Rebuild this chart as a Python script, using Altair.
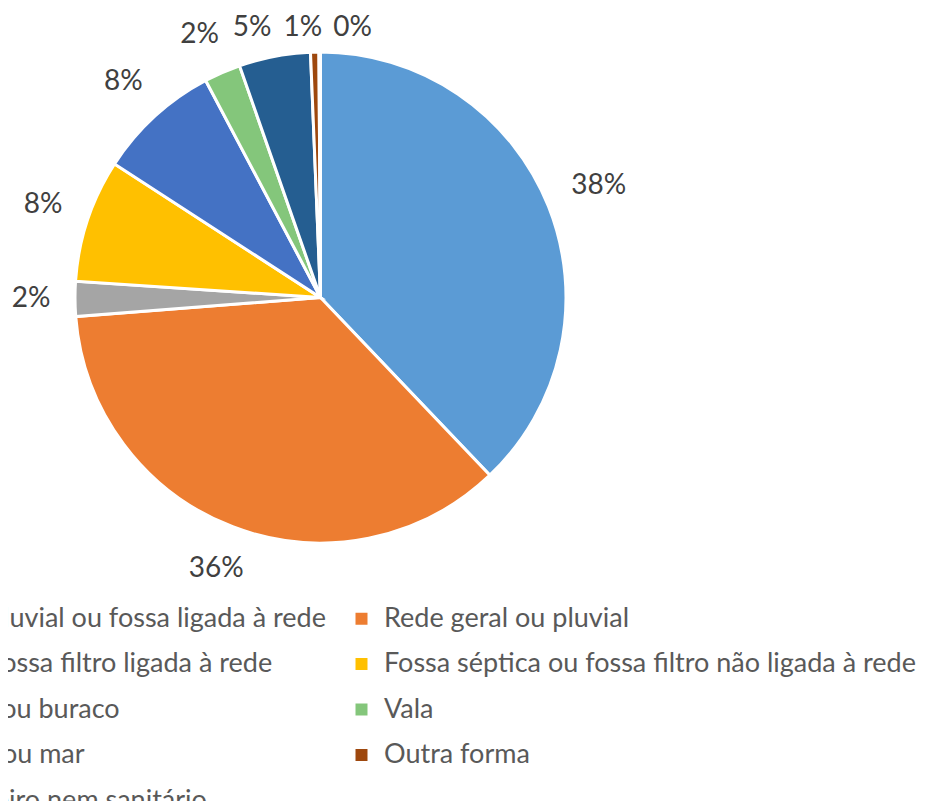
import math
import altair as alt
import pandas as pd

categories = [
    "Rede geral, rede pluvial ou fossa ligada à rede",
    "Rede geral ou pluvial",
    "Fossa séptica ou fossa filtro ligada à rede",
    "Fossa séptica ou fossa filtro não ligada à rede",
    "Fossa rudimentar ou buraco",
    "Vala",
    "Rio, lago, córrego ou mar",
    "Outra forma",
    "Não tinham banheiro nem sanitário",
]
values = [37.9, 35.9, 2.3, 8.1, 8.1, 2.4, 4.7, 0.55, 0.1]
colors = ["#5B9BD5", "#ED7D31", "#A5A5A5", "#FFC000", "#4472C4",
          "#84C67B", "#255E91", "#9E480E", "#636363"]

# layout constants
R = 245.5
FS_LAB = 28
GAP = 25
HALF_H = 12
TOP_LIMIT = R + 24
SEP = 10.5

labels = [f"{v:.0f}%" for v in values]
total = sum(values)
mids = []
acc = 0.0
for v in values:
    mids.append((acc + v / 2) / total * 360.0)
    acc += v
pos = list(mids)
for _ in range(500):
    moved = False
    for i in range(len(pos) - 1):
        d = pos[i + 1] - pos[i]
        if d < SEP - 1e-9:
            s = (SEP - d) / 2
            pos[i] -= s
            pos[i + 1] += s
            moved = True
    if not moved:
        break

lab_theta, lab_r = [], []
for s, a in zip(labels, pos):
    t = math.radians(a)
    hw = 0.5 * FS_LAB * (0.55 * (len(s) - 1) + 0.8)
    r = R + GAP + hw * abs(math.sin(t)) + HALF_H * abs(math.cos(t))
    if math.cos(t) > 0 and r * math.cos(t) > TOP_LIMIT:
        r = TOP_LIMIT / math.cos(t)
    lab_theta.append(t)
    lab_r.append(r)

df = pd.DataFrame({
    "category": categories,
    "value": values,
    "order": list(range(len(values))),
    "label": labels,
    "lab_theta": lab_theta,
    "lab_r": lab_r,
})

pie = alt.Chart(df).mark_arc(outerRadius=R, stroke="white", strokeWidth=3).encode(
    theta=alt.Theta("value:Q", stack=True),
    color=alt.Color(
        "category:N",
        scale=alt.Scale(domain=categories, range=colors),
        legend=alt.Legend(
            title=None, orient="none", legendX=-253, legendY=597,
            direction="horizontal",
            columns=2, symbolType="square", symbolSize=144,
            symbolStrokeWidth=0, labelFont="Lato", labelFontSize=27,
            labelColor="#595959", labelLimit=2000, rowPadding=17.5,
            columnPadding=22, labelOffset=9, padding=0,
        ),
    ),
    order=alt.Order("order:Q"),
)

text = alt.Chart(df).mark_text(
    font="Lato", fontSize=FS_LAB, color="#404040", baseline="middle", align="center"
).encode(
    theta=alt.Theta("lab_theta:Q", scale=None, stack=False),
    radius=alt.Radius("lab_r:Q", scale=None),
    text="label:N",
)

chart = alt.layer(pie, text).resolve_scale(theta="independent").properties(
    width=625, height=579,
    autosize=alt.AutoSizeParams(type="none"),
    padding={"left": 0, "top": 0, "right": 284, "bottom": 214},
).configure_view(stroke=None)

chart.save("out.html", embed_options={"renderer": "svg", "actions": False})
